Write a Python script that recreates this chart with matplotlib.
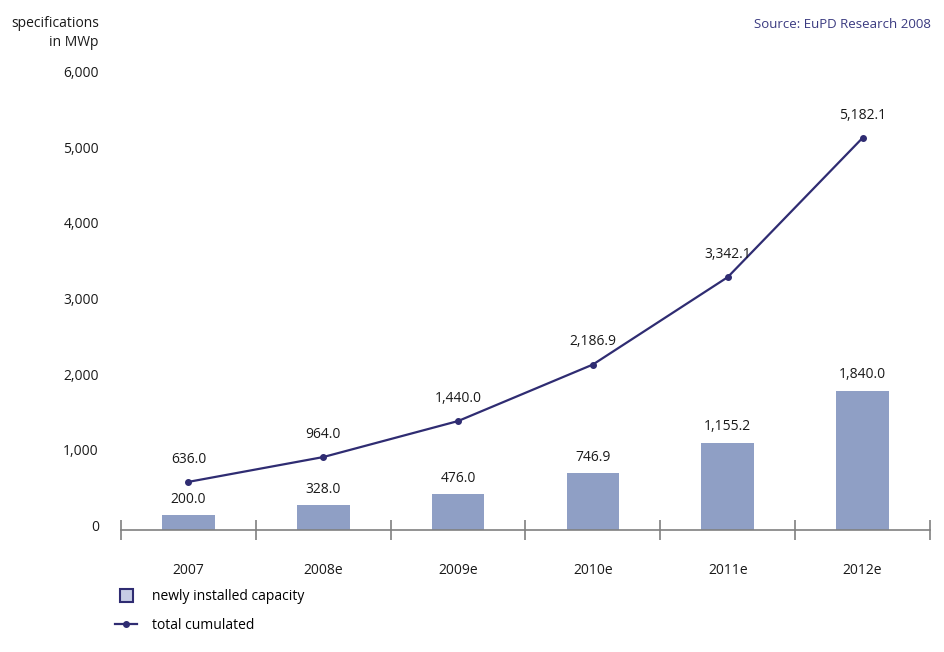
import matplotlib
matplotlib.use("Agg")
import matplotlib.pyplot as plt
import matplotlib.transforms as mtransforms
from matplotlib.patches import Patch, Rectangle
from matplotlib.lines import Line2D
from matplotlib.legend_handler import HandlerPatch
from matplotlib.ticker import FuncFormatter, FixedLocator

plt.rcParams["font.family"] = ["Open Sans", "DejaVu Sans"]

years = ["2007", "2008e", "2009e", "2010e", "2011e", "2012e"]
newly_installed = [200.0, 328.0, 476.0, 746.9, 1155.2, 1840.0]
total_cumulated = [636.0, 964.0, 1440.0, 2186.9, 3342.1, 5182.1]
y_ticks = [0, 1000, 2000, 3000, 4000, 5000, 6000]

BAR = "#8f9fc5"
LINE = "#2f2c72"
GREY = "#808080"
TXT = "#1a1a1a"


def fmt(v):
    return f"{v:,.1f}"


fig = plt.figure(figsize=(9.45, 6.52), dpi=100)
ax = fig.add_axes([121 / 945, 1 - 530 / 652, 809 / 945, 454 / 652])

x = range(len(years))
ax.bar(x, newly_installed, width=0.39, color=BAR, zorder=2)
ax.plot(x, total_cumulated, color=LINE, lw=1.6, marker="o", ms=4, zorder=3)

for i, v in enumerate(newly_installed):
    ax.annotate(fmt(v), (i, v), xytext=(0, 6), textcoords="offset points",
                ha="center", va="bottom", fontsize=10, color=TXT)
for i, v in enumerate(total_cumulated):
    ax.annotate(fmt(v), (i, v), xytext=(0, 11), textcoords="offset points",
                ha="center", va="bottom", fontsize=10, color=TXT)

ax.set_xlim(-0.5, len(years) - 0.5)
ax.set_ylim(0, 6000)
ax.set_yticks(y_ticks)
ax.yaxis.set_major_formatter(FuncFormatter(lambda v, p: f"{int(v):,}"))
ax.set_xticks(list(x))
ax.set_xticklabels(years)
ax.xaxis.set_minor_locator(FixedLocator([i - 0.5 for i in range(len(years) + 1)]))

for s in ["top", "right", "left"]:
    ax.spines[s].set_visible(False)
ax.spines["bottom"].set_color(GREY)
ax.spines["bottom"].set_linewidth(1.2)

ax.tick_params(axis="y", length=0, pad=16, labelsize=10, labelcolor=TXT)
ax.tick_params(axis="x", which="major", length=0, pad=24, labelsize=10, labelcolor=TXT)
ax.tick_params(axis="x", which="minor", direction="inout", length=15, width=1.2, color=GREY)

# labels on the value axis sit a little above their gridline position
shift = mtransforms.ScaledTranslation(0, 0.045, fig.dpi_scale_trans)
for lab in ax.get_yticklabels():
    lab.set_transform(lab.get_transform() + shift)

fig.text(99 / 945, 1 - 33 / 652, "specifications\nin MWp", ha="right", va="center",
         fontsize=10, color=TXT, linespacing=1.3)
fig.text(931 / 945, 1 - 24 / 652, "Source: EuPD Research 2008", ha="right", va="center",
         fontsize=9.5, color="#3a3a80")


def square(legend, orig_handle, xdescent, ydescent, width, height, fontsize):
    s = height * 1.35
    return Rectangle((width / 2 - s / 2 - xdescent, height / 2 - s / 2 - ydescent), s, s)


handles = [Patch(facecolor="#c6cce4", edgecolor=LINE, linewidth=1.5),
           Line2D([], [], color=LINE, lw=1.6, marker="o", ms=4)]
fig.legend(handles, ["newly installed capacity", "total cumulated"],
           loc="upper left", bbox_to_anchor=(103 / 945, 1 - 577 / 652), frameon=False,
           fontsize=10, handlelength=1.55, handletextpad=1.05, labelspacing=0.95,
           handler_map={Patch: HandlerPatch(patch_func=square)})

fig.savefig("out.png", dpi=100)
